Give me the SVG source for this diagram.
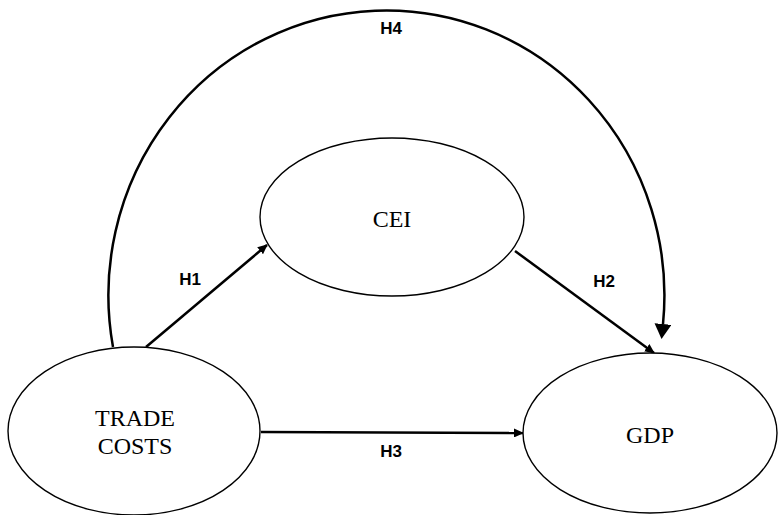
<svg xmlns="http://www.w3.org/2000/svg" width="778" height="515" viewBox="0 0 778 515">
<style>
.node{fill:#fff;stroke:#000;stroke-width:1.4}
.ntext{font-family:"Liberation Serif","Times New Roman",serif;font-size:24px;fill:#000;text-anchor:middle}
.edge{fill:none;stroke:#000;stroke-width:2.5}
.lbl{font-family:"Liberation Sans",Arial,sans-serif;font-size:17px;font-weight:bold;fill:#000;text-anchor:middle}
</style>
<defs>
<marker id="sa" markerUnits="userSpaceOnUse" markerWidth="10" markerHeight="9" viewBox="0 -4.5 10 9" refX="9" refY="0" orient="auto">
<path d="M0,-4.5 L10,0 L0,4.5 z" fill="#000"/>
</marker>
<marker id="la" markerUnits="userSpaceOnUse" markerWidth="15" markerHeight="17" viewBox="0 -8.5 15 17" refX="0" refY="0" orient="auto">
<path d="M0,-8.5 L15,0 L0,8.5 z" fill="#000"/>
</marker>
</defs>
<rect width="778" height="515" fill="#fff"/>
<g id="connectors">
<path class="edge" d="M113,347 A278 285 0 1 1 663,324" stroke-width="2.2" marker-end="url(#la)"/>
<line class="edge" x1="146" y1="347" x2="267" y2="245" marker-end="url(#sa)"/>
<line class="edge" x1="515" y1="251" x2="654" y2="353" marker-end="url(#sa)"/>
<line class="edge" x1="261" y1="432" x2="523" y2="433" marker-end="url(#sa)"/>
<text class="lbl" x="391" y="34">H4</text>
<text class="lbl" x="190" y="285">H1</text>
<text class="lbl" x="604" y="287">H2</text>
<text class="lbl" x="391" y="457">H3</text>
</g>
<g id="cei">
<ellipse class="node" cx="392" cy="217" rx="132" ry="79"/>
<text class="ntext" x="392" y="227">CEI</text>
</g>
<g id="trade-costs">
<ellipse class="node" cx="134" cy="431" rx="126" ry="84"/>
<text class="ntext" x="135" y="426">TRADE</text>
<text class="ntext" x="135" y="454">COSTS</text>
</g>
<g id="gdp">
<ellipse class="node" cx="650" cy="433" rx="127" ry="80"/>
<text class="ntext" x="650" y="443">GDP</text>
</g>
</svg>
